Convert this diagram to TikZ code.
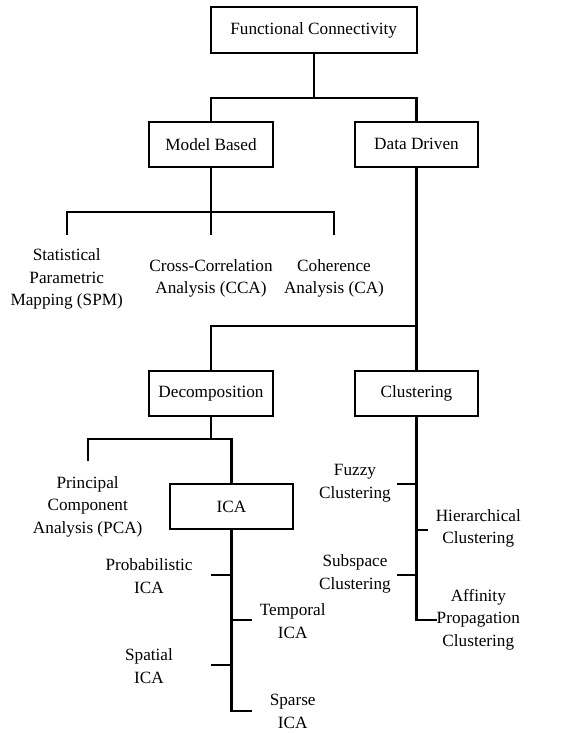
\documentclass[tikz,border=0pt]{standalone}
\usepackage{fontspec}
\setmainfont{Liberation Serif}
\usetikzlibrary{positioning,calc}

\tikzset{
	box/.style={draw=black, line width=\lw, minimum width=\bw, minimum height=\bh, inner sep=0pt},
	leaf/.style={align=center, inner sep=0pt},
	link/.style={draw=black, line width=\lw}
}

\begin{document}
\begin{tikzpicture}[x=1pt, y=-1pt, font=\fontsize{17.2}{22.5}\selectfont]
				
				% geometry
				\def\lw{2.2pt}   % line width
				\def\bw{123.4pt} % box width
				\def\bh{45pt}    % box height
				
				\useasboundingbox (0,0) rectangle (577,733);
				
				% boxes
				\node[box, minimum width=206pt, minimum height=46pt] (fc) at (313.7,30.3) {Functional Connectivity};
				\node[box] (mb) at (211,144.2) {Model Based};
				\node[box] (dd) at (416.5,144.2) {Data Driven};
				\node[box] (dec) at (211,393.3) {Decomposition};
				\node[box] (clu) at (416.5,393.3) {Clustering};
				\node[box] (ica) at (231.5,506.7) {ICA};
				
				% model based methods
				\node[leaf] (spm) at (66.7,279.3) {Statistical\\Parametric\\Mapping (SPM)};
				\node[leaf] (cca) at (211,278.3) {Cross-Correlation\\Analysis (CCA)};
				\node[leaf] (ca) at (334,278.3) {Coherence\\Analysis (CA)};
				
				% decomposition methods
				\node[leaf] (pca) at (87.7,506.4) {Principal\\Component\\Analysis (PCA)};
				\node[leaf] (prob) at (149,576) {Probabilistic\\ICA};
				\node[leaf] (temp) at (292.7,621) {Temporal\\ICA};
				\node[leaf] (spat) at (149,666) {Spatial\\ICA};
				\node[leaf] (spar) at (292.7,711.5) {Sparse\\ICA};
				
				% clustering methods
				\node[leaf] (fuz) at (355,483) {Fuzzy\\Clustering};
				\node[leaf] (hier) at (478.3,528.3) {Hierarchical\\Clustering};
				\node[leaf] (sub) at (355,574) {Subspace\\Clustering};
				\node[leaf] (aff) at (478.3,619.5) {Affinity\\Propagation\\Clustering};
				
				% junctions and stub ends
				\coordinate (fc-j) at (313.7,98.3);
				\coordinate (mb-j) at (211,211.7);
				\coordinate (dd-j) at (416.5,326);
				\coordinate (dec-j) at (211,439);
				\coordinate (spm-t) at (67.3,235);
				\coordinate (cca-t) at (211,235);
				\coordinate (ca-t) at (334,235);
				\coordinate (pca-t) at (87.7,461);
				\coordinate (prob-t) at (211,575);
				\coordinate (temp-t) at (251.7,620);
				\coordinate (spat-t) at (211,665);
				\coordinate (spar-t) at (251.7,710.7);
				\coordinate (fuz-t) at (396.7,484.3);
				\coordinate (hier-t) at (427.7,530);
				\coordinate (sub-t) at (396.7,575);
				\coordinate (aff-t) at (436.7,620);
				
				% tree lines
				\path[link] (fc.south) -- (fc-j);
				\path[link] (mb.north) |- (fc-j) -| (dd.north);
				\path[link] (mb.south) -- (cca-t);
				\path[link] (spm-t) |- (mb-j) -| (ca-t);
				\path[link] (dd.south) -- (clu.north);
				\path[link] (dd-j) -| (dec.north);
				\path[link] (dec.south) -- (dec-j);
				\path[link] (pca-t) |- (dec-j) -| (ica.north);
				
				% ica trunk with stubs
				\path[link] (ica.south) -- (ica.south |- spar-t) -- (spar-t);
				\path[link] (ica.south |- prob-t) -- (prob-t);
				\path[link] (ica.south |- temp-t) -- (temp-t);
				\path[link] (ica.south |- spat-t) -- (spat-t);
				
				% clustering trunk with stubs
				\path[link] (clu.south) -- (clu.south |- aff-t) -- (aff-t);
				\path[link] (clu.south |- fuz-t) -- (fuz-t);
				\path[link] (clu.south |- hier-t) -- (hier-t);
				\path[link] (clu.south |- sub-t) -- (sub-t);
				
			\end{tikzpicture}
\end{document}
